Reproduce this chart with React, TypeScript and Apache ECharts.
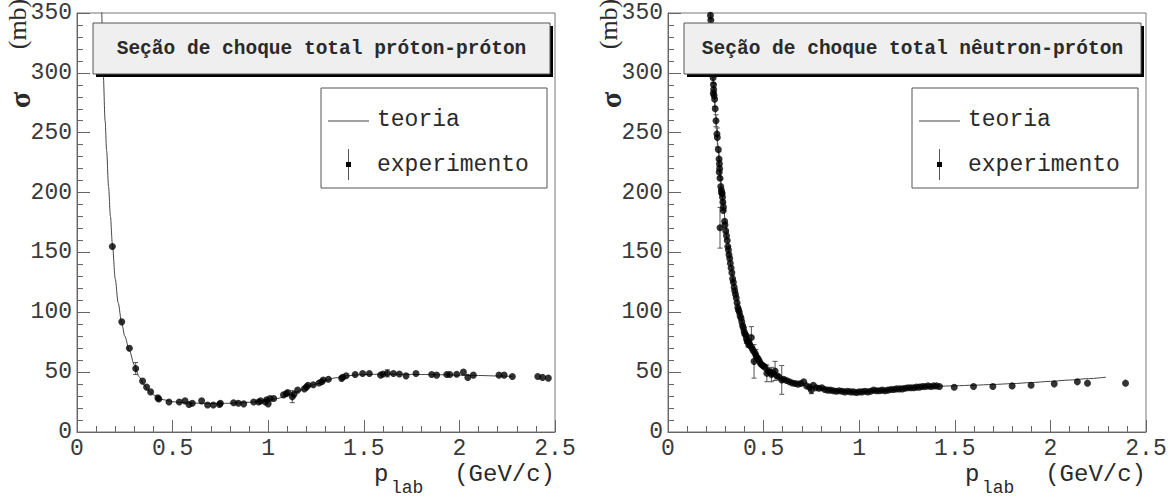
import { useEffect, useRef } from "react";
import * as echarts from "echarts";

// ---------- data ----------
const xTickValues = [0, 0.5, 1, 1.5, 2, 2.5];
const yTickValues = [0, 50, 100, 150, 200, 250, 300, 350];

const titles = ["Seção de choque total próton-próton", "Seção de choque total nêutron-próton"];
const legendLabels = ["teoria", "experimento"];
const yTitle = ["σ", "(mb)"];
const xTitle = ["p", "lab", "(GeV/c)"];

// [p_lab (GeV/c), sigma (mb)]
const ppTheory = [
  [0.122, 420], [0.129, 350], [0.137, 300], [0.147, 260], [0.155, 235], [0.165, 205], [0.175, 180],
  [0.185, 157], [0.2, 128], [0.215, 108], [0.234, 91], [0.25, 80], [0.274, 68], [0.3, 56], [0.325, 46],
  [0.35, 39.5], [0.375, 34.5], [0.4, 31], [0.45, 27], [0.5, 25.3], [0.55, 24.6], [0.6, 24.2], [0.7, 23.8],
  [0.8, 24], [0.9, 24.8], [1.0, 26.5], [1.05, 28], [1.1, 30.5], [1.15, 33.5], [1.2, 37], [1.25, 40],
  [1.3, 43], [1.35, 45.2], [1.4, 46.6], [1.45, 47.5], [1.5, 48], [1.6, 48.3], [1.7, 48.2], [1.8, 48],
  [1.9, 47.8], [2.0, 47.5], [2.1, 47.2], [2.2, 46.8], [2.28, 46.5],
];

// [p_lab, sigma, error]
const ppExperiment = [
  [0.185, 155, 0], [0.234, 92, 0], [0.274, 70, 0], [0.307, 53, 5], [0.343, 42.5, 0], [0.364, 37.5, 0],
  [0.385, 33.5, 0], [0.423, 28.5, 0], [0.428, 27.5, 0], [0.481, 25, 0], [0.535, 25, 0], [0.565, 26, 0],
  [0.586, 23, 0], [0.603, 24, 0], [0.652, 26, 0], [0.683, 22.5, 0], [0.713, 22.5, 0], [0.745, 23, 0],
  [0.75, 24, 0], [0.819, 24.5, 0], [0.844, 24, 0], [0.872, 23.5, 0], [0.924, 25, 0], [0.95, 25, 0],
  [0.96, 26, 0], [0.985, 25, 0], [0.992, 27, 0], [1.0, 23.5, 0], [1.01, 28, 0], [1.029, 28, 0],
  [1.08, 31, 0], [1.095, 32, 0], [1.102, 33, 0], [1.126, 29.5, 5], [1.135, 31.5, 0], [1.154, 35, 0],
  [1.189, 36, 0], [1.2, 37.5, 0], [1.208, 39, 0], [1.236, 39.5, 0], [1.266, 41, 0], [1.28, 42, 0],
  [1.288, 43.5, 0], [1.315, 44, 0], [1.384, 44.8, 0], [1.39, 45.7, 0], [1.408, 47, 0], [1.455, 48, 0],
  [1.494, 48.8, 0], [1.529, 48.8, 0], [1.588, 47.5, 0], [1.6, 48.5, 0], [1.623, 49, 3], [1.655, 48.8, 0],
  [1.686, 48.5, 0], [1.721, 46.9, 0], [1.773, 48.8, 0], [1.855, 48, 0], [1.881, 47.5, 0], [1.934, 48, 0],
  [1.95, 48, 0], [1.986, 48.3, 0], [2.021, 50, 0], [2.044, 45.6, 0], [2.073, 47.5, 0], [2.207, 47.5, 0],
  [2.234, 47.5, 0], [2.277, 46.4, 0], [2.41, 46.4, 0], [2.435, 45.6, 0], [2.465, 45, 0],
];

const npTheory = [
  [0.215, 380], [0.223, 348], [0.23, 320], [0.24, 289], [0.25, 264], [0.26, 241], [0.27, 222], [0.28, 204],
  [0.29, 189], [0.3, 175], [0.31, 162], [0.32, 150], [0.33, 139], [0.34, 129], [0.35, 120], [0.36, 112],
  [0.37, 104.5], [0.38, 98], [0.39, 92], [0.4, 86.5], [0.42, 78], [0.44, 71], [0.46, 65], [0.48, 60.5],
  [0.5, 56.5], [0.55, 49], [0.6, 44.5], [0.65, 41.5], [0.7, 39], [0.75, 37.3], [0.8, 36], [0.85, 35],
  [0.9, 34.2], [0.95, 33.8], [1.0, 33.6], [1.05, 33.7], [1.1, 34], [1.15, 34.6], [1.2, 35.3], [1.25, 36],
  [1.3, 36.8], [1.35, 37.5], [1.4, 38.1], [1.45, 38.4], [1.5, 38.6], [1.6, 39.1], [1.7, 39.7], [1.8, 40.4],
  [1.9, 41.3], [2.0, 42.3], [2.1, 43.4], [2.2, 44.6], [2.29, 45.8],
];

const npExperiment = [
  [0.222, 348, 3], [0.224, 344, 0], [0.226, 335, 0], [0.229, 322, 0], [0.232, 310, 0],
  [0.236, 296, 4], [0.238, 290, 0], [0.239, 286, 5], [0.237, 283, 0], [0.241, 281, 0], [0.244, 278, 6],
  [0.247, 270, 0], [0.251, 260, 5], [0.256, 249, 0], [0.258, 246, 8], [0.263, 236, 0], [0.267, 228, 6],
  [0.269, 224, 0], [0.27, 220, 7], [0.268, 217, 0], [0.272, 212, 0], [0.276, 205, 6], [0.279, 202, 0],
  [0.283, 199, 0], [0.285, 196, 4], [0.281, 200, 0], [0.287, 192, 0], [0.29, 188, 3], [0.289, 185, 0],
  [0.272, 170.6, 17], [0.298, 173, 0], [0.296, 176, 0], [0.302, 168, 0], [0.306, 164, 3], [0.31, 160, 0],
  [0.313, 155, 0], [0.316, 152, 3], [0.319, 148, 0], [0.323, 145, 0], [0.326, 141, 0], [0.33, 137, 0],
  [0.334, 133, 0], [0.338, 128, 3], [0.342, 125, 0], [0.346, 121, 0], [0.349, 118, 0], [0.353, 115, 0],
  [0.357, 112, 0], [0.361, 108, 0], [0.365, 104, 3], [0.369, 102, 0], [0.373, 100, 0], [0.377, 97, 0],
  [0.382, 95, 0], [0.386, 92, 0], [0.39, 89, 0], [0.394, 87, 0], [0.398, 84, 3], [0.402, 82, 0],
  [0.406, 81, 0], [0.41, 78, 4], [0.414, 76, 0], [0.418, 76, 5], [0.422, 73, 0], [0.426, 74, 0],
  [0.43, 72, 0], [0.436, 79, 9], [0.44, 70, 0], [0.445, 68, 0], [0.45, 59, 14], [0.455, 66, 0],
  [0.46, 64, 5], [0.466, 62, 0], [0.472, 61, 0], [0.478, 59, 0], [0.485, 57, 0], [0.492, 56, 0],
  [0.5, 55, 0], [0.508, 54, 0], [0.517, 49, 7], [0.525, 51, 0], [0.533, 50, 0], [0.541, 48, 6],
  [0.55, 49, 0], [0.56, 51, 8], [0.57, 47, 0], [0.58, 46, 0], [0.595, 43.5, 12], [0.605, 44, 0],
  [0.62, 43, 0], [0.635, 42, 0], [0.65, 41, 0], [0.665, 40.5, 0], [0.68, 40, 0], [0.695, 40.5, 0],
  [0.71, 42, 0], [0.725, 38.5, 0], [0.74, 37.5, 0], [0.75, 35, 3], [0.76, 39, 0], [0.775, 37, 0],
  [0.79, 36.5, 0], [0.805, 37, 0], [0.82, 35.5, 0], [0.835, 35, 0], [0.85, 35, 0], [0.865, 34.5, 0],
  [0.88, 34, 0], [0.895, 34.5, 0], [0.91, 34, 0], [0.925, 33.5, 0], [0.94, 34, 0], [0.955, 33.5, 0],
  [0.97, 33.5, 0], [0.985, 33, 0], [1.0, 33.5, 0], [1.015, 33.5, 0], [1.03, 34, 0], [1.045, 33.5, 0],
  [1.06, 34, 0], [1.075, 35, 0], [1.09, 34.5, 0], [1.105, 34.5, 0], [1.12, 35, 0], [1.135, 34.5, 0],
  [1.15, 35, 0], [1.165, 35.5, 0], [1.18, 35.5, 0], [1.195, 36, 0], [1.21, 36, 0], [1.225, 36, 0],
  [1.24, 36.5, 0], [1.255, 37, 0], [1.27, 37, 0], [1.285, 37, 0], [1.3, 37.5, 0], [1.315, 37.5, 0],
  [1.33, 38, 0], [1.345, 38, 0], [1.36, 38.5, 0], [1.375, 38, 0], [1.39, 38.5, 0], [1.405, 38.5, 0],
  [1.42, 38, 0], [1.497, 37.4, 0], [1.598, 38, 0], [1.699, 38, 0], [1.8, 38.5, 0], [1.899, 39, 0],
  [2.02, 40.2, 0], [2.141, 41.9, 0], [2.194, 40.8, 0], [2.393, 40.8, 0],
];

// ---------- styling ----------
const MONO = '"Liberation Mono", "Courier New", monospace';
const SERIF = '"Liberation Serif", "Times New Roman", serif';
const AXIS_COLOR = "#666";
const LABEL_COLOR = "#3a3a3a";

const panels = [
  { left: 77, top: 13, width: 478, height: 419, title: titles[0], theory: ppTheory, exp: ppExperiment },
  { left: 668, top: 13, width: 478, height: 419, title: titles[1], theory: npTheory, exp: npExperiment },
];

function errorBarRender(params: any, api: any) {
  const x = api.value(0);
  const y = api.value(1);
  const e = api.value(2);
  if (!e) return { type: "group", children: [] };
  const hi = api.coord([x, y + e]);
  const lo = api.coord([x, y - e]);
  const cap = 2.5;
  const st = { stroke: "#555", lineWidth: 1 };
  return {
    type: "group",
    children: [
      { type: "line", shape: { x1: hi[0], y1: hi[1], x2: lo[0], y2: lo[1] }, style: st },
      { type: "line", shape: { x1: hi[0] - cap, y1: hi[1], x2: hi[0] + cap, y2: hi[1] }, style: st },
      { type: "line", shape: { x1: lo[0] - cap, y1: lo[1], x2: lo[0] + cap, y2: lo[1] }, style: st },
    ],
  };
}

function txt(
  x: number, y: number, text: string, fontSize: number, fontFamily: string, lineHeight: number,
  align = "left", rotation = 0, fontWeight = "normal",
) {
  return {
    type: "text",
    x,
    y,
    rotation,
    z: 120,
    style: {
      text,
      fontSize,
      fontFamily,
      fontWeight,
      lineHeight,
      fill: "#2a2a2a",
      align,
      verticalAlign: "middle",
      textAlign: align,
      textVerticalAlign: "middle",
    },
  };
}

function panelGraphics(idx: number) {
  const p = panels[idx];
  const dx = p.left - panels[0].left;
  const els: any[] = [];
  // title box with shadow
  const bx = 93 + dx, by = 23, bw = 457, bh = 51;
  els.push({ type: "rect", z: 100, shape: { x: bx + 3, y: by + 3, width: bw, height: bh }, style: { fill: "#000" } });
  els.push({ type: "rect", z: 101, shape: { x: bx, y: by, width: bw, height: bh }, style: { fill: "#efefef", stroke: "#555", lineWidth: 1 } });
  els.push(txt(bx + bw / 2, by + bh / 2, p.title, 19.5, MONO, 22, "center", 0, "bold"));
  // legend box
  const lx = 321 + dx, ly = 88, lw = 226, lh = 100;
  els.push({ type: "rect", z: 100, shape: { x: lx, y: ly, width: lw, height: lh }, style: { fill: "#fff", stroke: "#555", lineWidth: 1 } });
  els.push({ type: "line", z: 110, shape: { x1: lx + 7, y1: 121, x2: lx + 48, y2: 121 }, style: { stroke: "#444", lineWidth: 1 } });
  els.push(txt(lx + 56, 120, legendLabels[0], 23, MONO, 24));
  els.push({ type: "line", z: 110, shape: { x1: lx + 27.5, y1: 149, x2: lx + 27.5, y2: 180 }, style: { stroke: "#555", lineWidth: 1 } });
  els.push({ type: "rect", z: 111, shape: { x: lx + 25, y: 162, width: 5, height: 5 }, style: { fill: "#000" } });
  els.push(txt(lx + 56, 165, legendLabels[1], 23, MONO, 24));
  // y axis title
  els.push(txt(19 + dx, 100, yTitle[0], 30, SERIF, 26, "center", Math.PI / 2, "bold"));
  els.push(txt(17 + dx, 24, yTitle[1], 26, SERIF, 22, "center", Math.PI / 2));
  // x axis title
  els.push(txt(374 + dx, 474, xTitle[0], 24, MONO, 16));
  els.push(txt(391 + dx, 488, xTitle[1], 18, MONO, 13));
  els.push(txt(555 + dx, 474, xTitle[2], 24, MONO, 16, "right"));
  return els;
}

export default function App() {
  const ref = useRef<HTMLDivElement>(null);
  useEffect(() => {
    if (!ref.current) return;
    const chart = echarts.init(ref.current, undefined, { renderer: "svg" });
    const grids = panels.map((p) => ({
      left: p.left,
      top: p.top,
      width: p.width,
      height: p.height,
      show: true,
      borderColor: "#777",
      borderWidth: 1,
      backgroundColor: "transparent",
      containLabel: false,
    }));
    const xAxes = panels.map((_, i) => ({
      type: "value",
      gridIndex: i,
      min: xTickValues[0],
      max: xTickValues[xTickValues.length - 1],
      interval: 0.5,
      axisLine: { show: true, lineStyle: { color: AXIS_COLOR, width: 1 } },
      axisTick: { show: true, inside: true, length: 12, lineStyle: { color: AXIS_COLOR } },
      minorTick: { show: true, splitNumber: 5, length: 6, lineStyle: { color: AXIS_COLOR } },
      splitLine: { show: false },
      axisLabel: {
        fontFamily: MONO, fontSize: 23, lineHeight: 16, color: LABEL_COLOR, margin: 9,
        showMinLabel: true, showMaxLabel: true,
      },
    }));
    const yAxes = panels.map((_, i) => ({
      type: "value",
      gridIndex: i,
      min: yTickValues[0],
      max: yTickValues[yTickValues.length - 1],
      interval: 50,
      axisLine: { show: true, lineStyle: { color: AXIS_COLOR, width: 1 } },
      axisTick: { show: true, inside: true, length: 13, lineStyle: { color: AXIS_COLOR } },
      minorTick: { show: true, splitNumber: 5, length: 6, lineStyle: { color: AXIS_COLOR } },
      splitLine: { show: false },
      axisLabel: {
        fontFamily: MONO, fontSize: 23, lineHeight: 18, color: LABEL_COLOR, margin: 5,
        showMinLabel: true, showMaxLabel: true,
      },
    }));
    const series: any[] = [];
    panels.forEach((p, i) => {
      series.push({
        type: "line",
        xAxisIndex: i,
        yAxisIndex: i,
        data: p.theory,
        showSymbol: false,
        smooth: 0.3,
        smoothMonotone: "x",
        clip: true,
        lineStyle: { color: "#444", width: 1 },
        z: 2,
      });
      series.push({
        type: "custom",
        xAxisIndex: i,
        yAxisIndex: i,
        data: p.exp,
        renderItem: errorBarRender,
        encode: { x: 0, y: 1 },
        clip: true,
        z: 3,
      });
      series.push({
        type: "scatter",
        xAxisIndex: i,
        yAxisIndex: i,
        data: p.exp.map((d) => [d[0], d[1]]),
        symbol: "circle",
        symbolSize: 7,
        itemStyle: { color: "#000" },
        clip: true,
        z: 4,
      });
    });
    chart.setOption({
      animation: false,
      backgroundColor: "#fff",
      grid: grids,
      xAxis: xAxes,
      yAxis: yAxes,
      series,
      graphic: { elements: [...panelGraphics(0), ...panelGraphics(1)] },
    });
    return () => chart.dispose();
  }, []);
  return <div ref={ref} style={{ position: "absolute", left: 0, top: 0, width: 1174, height: 498 }} />;
}
